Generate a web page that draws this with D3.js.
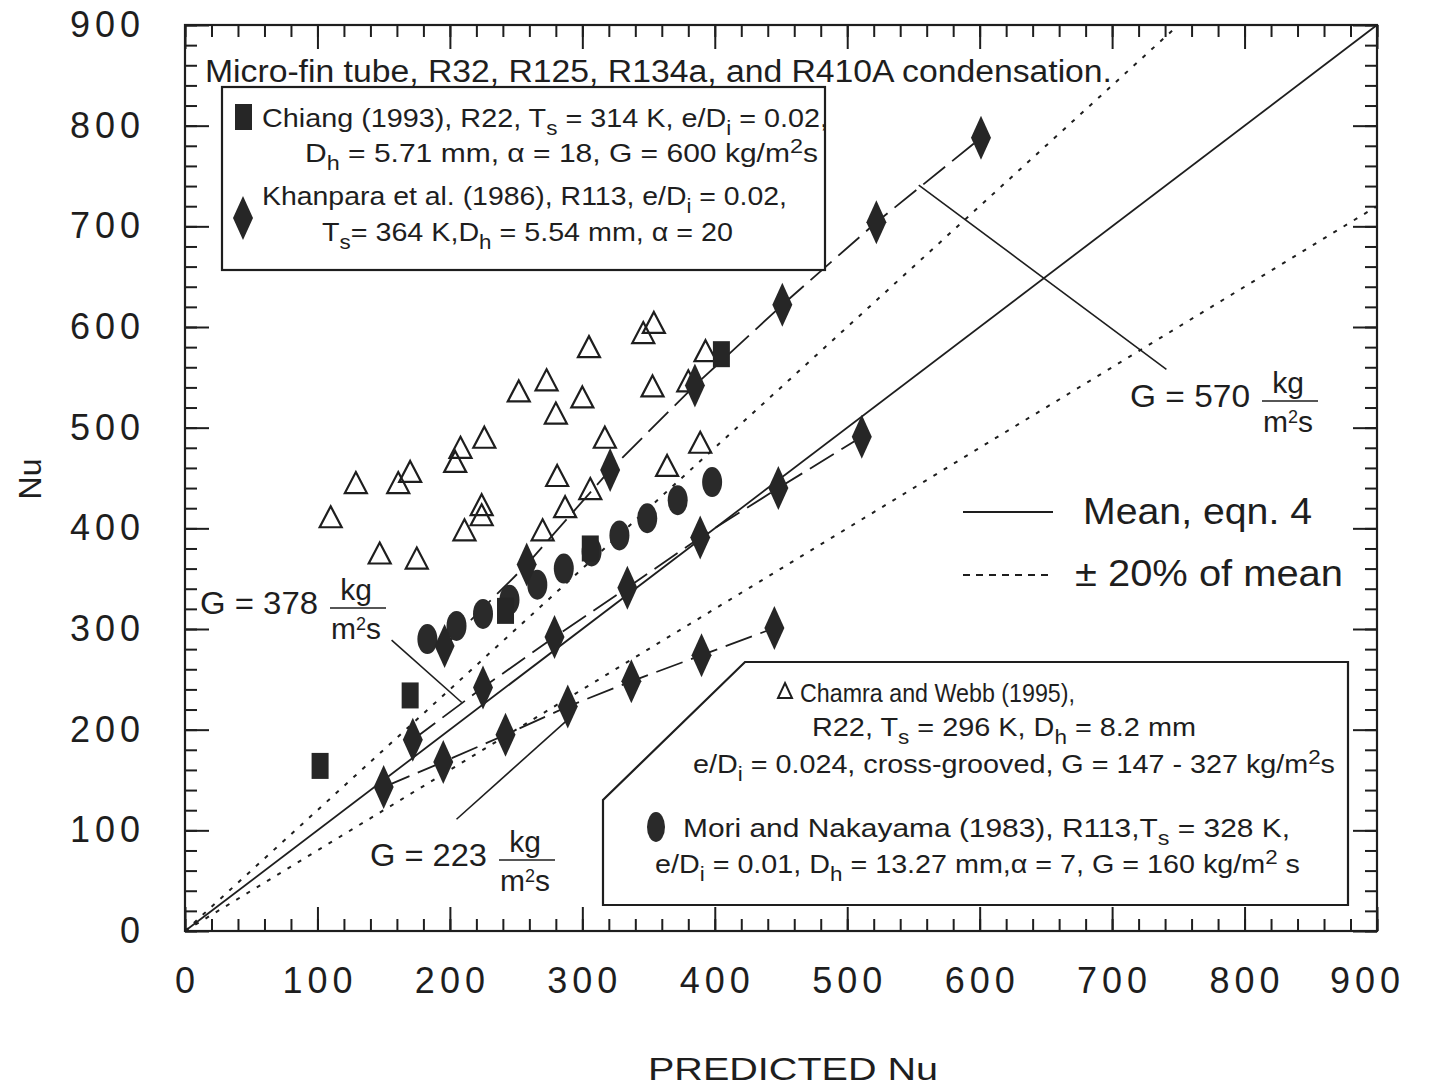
<!DOCTYPE html>
<html>
<head>
<meta charset="utf-8">
<script src="https://cdn.jsdelivr.net/npm/d3@7"></script>
<style>
  body { margin: 0; background: #fff; }
  svg text { font-family: "Liberation Sans", Arial, Helvetica, sans-serif; fill: #1e1e1e; }
</style>
</head>
<body>
<svg id="chart" width="1434" height="1088"></svg>
<script>
// ---- data -------------------------------------------------------------
// Chiang (1993), R22 — squares
const chiangX = [102, 170, 242, 306, 405];
const chiangY = [164, 234, 318, 380, 573];

// Khanpara et al. (1986), R113 — diamonds, one run per mass flux
const khan570X = [196, 258, 321, 385, 451, 522, 601];
const khan570Y = [283, 364, 458, 542, 622, 704, 788];
const khan378X = [172, 225, 279, 334, 389, 448, 511];
const khan378Y = [190, 242, 292, 341, 391, 440, 491];
const khan223X = [150, 195, 242, 289, 337, 390, 445];
const khan223Y = [143, 168, 195, 223, 248, 274, 301];

// Mori and Nakayama (1983), R113 — filled ellipses
const moriX = [183, 205, 225, 245, 266, 286, 307, 328, 349, 372, 398];
const moriY = [290, 303, 315, 329, 344, 360, 377, 393, 410, 428, 446];

// Chamra and Webb (1995), R22 — open triangles
const chamraX = [110, 129, 147, 161, 170, 175, 204, 208, 211, 224, 224, 226, 252, 270, 273,
                 280, 281, 287, 300, 305, 306, 317, 346, 354, 353, 364, 380, 389, 393];
const chamraY = [411, 445, 375, 445, 456, 370, 466, 480, 398, 423, 413, 490, 536, 398, 547,
                 514, 452, 421, 530, 580, 439, 490, 594, 604, 541, 462, 546, 485, 576];

// mean correlation and ±20% band (ratio to predicted value)
const meanRatio = 1.0;
const bandRatios = [1.2, 0.8];

const xTicks = [0, 100, 200, 300, 400, 500, 600, 700, 800, 900];
const yTicks = [0, 100, 200, 300, 400, 500, 600, 700, 800, 900];
const minorStep = 20;

// ---- layout -----------------------------------------------------------
const svg = d3.select("#chart");
const ink = "#1e1e1e";
const x = d3.scaleLinear().domain([0, 900]).range([185, 1377]);
const y = d3.scaleLinear().domain([0, 900]).range([931, 25]);
const minorTicks = d3.range(0, 901, minorStep);

// ---- axes (ticks on all four sides, pointing inward) -------------------
function addAxis(axis, tx, ty, cls) {
  const g = svg.append("g").attr("class", cls).attr("transform", `translate(${tx},${ty})`).call(axis);
  g.select(".domain").remove();
  g.selectAll(".tick line").attr("stroke", ink).attr("stroke-width", 2);
  return g;
}
addAxis(d3.axisBottom(x).tickValues(minorTicks).tickSize(-12).tickFormat(""), 0, 931, "xminor");
addAxis(d3.axisTop(x).tickValues(minorTicks).tickSize(-12).tickFormat(""), 0, 25, "xminor-top");
addAxis(d3.axisLeft(y).tickValues(minorTicks).tickSize(-12).tickFormat(""), 185, 0, "yminor");
addAxis(d3.axisRight(y).tickValues(minorTicks).tickSize(-12).tickFormat(""), 1377, 0, "yminor-r");
addAxis(d3.axisTop(x).tickValues(xTicks).tickSize(-24).tickFormat(""), 0, 25, "xmajor-top");
addAxis(d3.axisRight(y).tickValues(yTicks).tickSize(-24).tickFormat(""), 1377, 0, "ymajor-r");

const xAx = addAxis(d3.axisBottom(x).tickValues(xTicks).tickSize(-24).tickPadding(36), 0, 931, "xmajor");
xAx.selectAll("text")
  .attr("font-size", 36).attr("letter-spacing", "5px").attr("fill", ink)
  .attr("dx", (d, i) => i === xTicks.length - 1 ? -10 : 2);
const yAx = addAxis(d3.axisLeft(y).tickValues(yTicks).tickSize(-24).tickPadding(40), 185, 0, "ymajor");
yAx.selectAll("text")
  .attr("font-size", 36).attr("letter-spacing", "5px").attr("fill", ink);
svg.selectAll(".tick text").style("font-family", '"Liberation Sans", Arial, sans-serif');

svg.append("rect")
  .attr("x", x(0)).attr("y", y(900))
  .attr("width", x(900) - x(0)).attr("height", y(0) - y(900))
  .attr("fill", "none").attr("stroke", ink).attr("stroke-width", 2.2);

svg.append("text").attr("x", 793).attr("y", 1080).attr("text-anchor", "middle")
  .attr("font-size", 32).attr("textLength", 290).attr("lengthAdjust", "spacingAndGlyphs")
  .text("PREDICTED Nu");
svg.append("text").attr("transform", "translate(41,479) rotate(-90)").attr("text-anchor", "middle")
  .attr("font-size", 32).text("Nu");

// ---- reference lines --------------------------------------------------
const plot = svg.append("g");
const refLine = (ratio) => {
  const xEnd = Math.min(900, 900 / ratio);
  return [[0, 0], [xEnd, xEnd * ratio]];
};
const line = d3.line().x(d => x(d[0])).y(d => y(d[1]));
plot.append("path").attr("d", line(refLine(meanRatio)))
  .attr("fill", "none").attr("stroke", ink).attr("stroke-width", 1.8);
bandRatios.forEach(r => {
  plot.append("path").attr("d", line(refLine(r)))
    .attr("fill", "none").attr("stroke", ink).attr("stroke-width", 2)
    .attr("stroke-dasharray", "4,8");
});

// Khanpara runs joined with long-dash lines
[[khan570X, khan570Y], [khan378X, khan378Y], [khan223X, khan223Y]].forEach(([xs, ys]) => {
  plot.append("path").attr("d", line(xs.map((v, i) => [v, ys[i]])))
    .attr("fill", "none").attr("stroke", ink).attr("stroke-width", 1.8)
    .attr("stroke-dasharray", "28,9");
});

// leader lines from the mass-flux labels to their runs
const leaders = [
  [[554, 741], [741, 558]],
  [[156, 289], [209, 227]],
  [[205, 111], [289, 210]]
];
leaders.forEach(l => plot.append("path").attr("d", line(l))
  .attr("fill", "none").attr("stroke", ink).attr("stroke-width", 1.6));

// ---- markers ------------------------------------------------------------
const diamond = "M0,-22L10,0L0,22L-10,0Z";
const triangle = "M0,-11L11,10L-11,10Z";

plot.selectAll(".tri").data(chamraX.map((v, i) => [v, chamraY[i]])).join("path")
  .attr("class", "tri").attr("d", triangle)
  .attr("transform", d => `translate(${x(d[0])},${y(d[1])})`)
  .attr("fill", "none").attr("stroke", ink).attr("stroke-width", 2.2).attr("stroke-linejoin", "miter");

plot.selectAll(".mori").data(moriX.map((v, i) => [v, moriY[i]])).join("ellipse")
  .attr("class", "mori").attr("cx", d => x(d[0])).attr("cy", d => y(d[1]))
  .attr("rx", 10).attr("ry", 15).attr("fill", "#2a2a2a");

const khanAll = [[khan570X, khan570Y], [khan378X, khan378Y], [khan223X, khan223Y]]
  .flatMap(([xs, ys]) => xs.map((v, i) => [v, ys[i]]));
plot.selectAll(".khan").data(khanAll).join("path")
  .attr("class", "khan").attr("d", diamond)
  .attr("transform", d => `translate(${x(d[0])},${y(d[1])})`)
  .attr("fill", "#262626");

plot.selectAll(".chiang").data(chiangX.map((v, i) => [v, chiangY[i]])).join("rect")
  .attr("class", "chiang").attr("x", d => x(d[0]) - 8.5).attr("y", d => y(d[1]) - 13)
  .attr("width", 17).attr("height", 26).attr("fill", "#262626");

// ---- text helpers ---------------------------------------------------
// segments: plain strings, {sub: "s"} or {sup: "2"}
function richText(xp, yp, size, length, segs, opts) {
  const o = Object.assign({anchor: "start", subDrop: 0.32, supRise: 0.36, small: 0.78}, opts || {});
  const t = svg.append("text").attr("x", xp).attr("y", yp).attr("font-size", size)
    .attr("text-anchor", o.anchor);
  if (length) t.attr("textLength", length).attr("lengthAdjust", "spacingAndGlyphs");
  let shift = 0;
  segs.forEach(s => {
    const sp = t.append("tspan");
    if (typeof s === "string") {
      sp.attr("dy", -shift).text(s); shift = 0;
    } else if (s.sub !== undefined) {
      const d = size * o.subDrop;
      sp.attr("dy", d - shift).attr("font-size", size * o.small).text(s.sub); shift = d;
    } else {
      const d = -size * o.supRise;
      sp.attr("dy", d - shift).attr("font-size", size * o.small).text(s.sup); shift = d;
    }
  });
  return t;
}

// heading inside the plot
svg.append("text").attr("x", 205).attr("y", 82).attr("font-size", 31)
  .attr("textLength", 907).attr("lengthAdjust", "spacingAndGlyphs")
  .text("Micro-fin tube, R32, R125, R134a, and R410A condensation.");

// upper-left legend box
svg.append("rect").attr("x", 222).attr("y", 87).attr("width", 603).attr("height", 183)
  .attr("fill", "#fff").attr("stroke", ink).attr("stroke-width", 2.2);
svg.append("rect").attr("x", 235).attr("y", 104).attr("width", 17).attr("height", 26).attr("fill", "#262626");
svg.append("path").attr("d", diamond).attr("transform", "translate(243,218)").attr("fill", "#262626");
richText(262, 127, 26, 566, ["Chiang (1993), R22, T", {sub: "s"}, " = 314 K, e/D", {sub: "i"}, " = 0.02,"]);
richText(305, 162, 26, 513, ["D", {sub: "h"}, " = 5.71 mm, \u03b1 = 18, G = 600 kg/m", {sup: "2"}, "s"]);
richText(262, 205, 26, 525, ["Khanpara et al. (1986), R113, e/D", {sub: "i"}, " = 0.02,"]);
richText(322, 241, 26, 411, ["T", {sub: "s"}, "= 364 K,D", {sub: "h"}, " = 5.54 mm, \u03b1 = 20"]);

// lower-right legend box with clipped corner
const boxPts = [[745, 662], [1348, 662], [1348, 905], [603, 905], [603, 800]];
svg.append("path").attr("d", "M" + boxPts.join("L") + "Z")
  .attr("fill", "#fff").attr("stroke", ink).attr("stroke-width", 2.2);
svg.append("path").attr("d", "M0,-8L7,7L-7,7Z").attr("transform", "translate(785,691)")
  .attr("fill", "none").attr("stroke", ink).attr("stroke-width", 2);
svg.append("ellipse").attr("cx", 656).attr("cy", 827).attr("rx", 9).attr("ry", 15).attr("fill", "#2a2a2a");
richText(800, 702, 26, 275, ["Chamra and Webb (1995),"]);
richText(812, 736, 26, 384, ["R22, T", {sub: "s"}, " = 296 K, D", {sub: "h"}, " = 8.2 mm"]);
richText(693, 773, 26, 642, ["e/D", {sub: "i"}, " = 0.024, cross-grooved, G = 147 - 327 kg/m", {sup: "2"}, "s"]);
richText(683, 837, 26, 607, ["Mori and Nakayama (1983), R113,T", {sub: "s"}, " = 328 K,"]);
richText(655, 873, 26, 645, ["e/D", {sub: "i"}, " = 0.01, D", {sub: "h"}, " = 13.27 mm,\u03b1 = 7, G = 160 kg/m", {sup: "2"}, " s"]);

// mass-flux labels, unit as a stacked fraction
function fluxLabel(xp, yp, value, lenMain) {
  svg.append("text").attr("x", xp).attr("y", yp).attr("font-size", 31)
    .attr("textLength", lenMain).attr("lengthAdjust", "spacingAndGlyphs")
    .text("G = " + value);
  const fx = xp + lenMain + 12;
  svg.append("text").attr("x", fx + 26).attr("y", yp - 14).attr("font-size", 30)
    .attr("text-anchor", "middle").text("kg");
  svg.append("line").attr("x1", fx).attr("x2", fx + 56).attr("y1", yp - 6).attr("y2", yp - 6)
    .attr("stroke", ink).attr("stroke-width", 1.6);
  richText(fx + 1, yp + 25, 30, null, ["m", {sup: "2"}, "s"], {supRise: 0.3, small: 0.6});
}
fluxLabel(200, 614, 378, 118);
fluxLabel(370, 866, 223, 117);
fluxLabel(1130, 407, 570, 120);

// line-style key
svg.append("line").attr("x1", 963).attr("x2", 1053).attr("y1", 512).attr("y2", 512)
  .attr("stroke", ink).attr("stroke-width", 2.2);
svg.append("line").attr("x1", 963).attr("x2", 1053).attr("y1", 575).attr("y2", 575)
  .attr("stroke", ink).attr("stroke-width", 2).attr("stroke-dasharray", "7,6");
svg.append("text").attr("x", 1083).attr("y", 524).attr("font-size", 36)
  .attr("textLength", 229).attr("lengthAdjust", "spacingAndGlyphs").text("Mean, eqn. 4");
svg.append("text").attr("x", 1075).attr("y", 586).attr("font-size", 36)
  .attr("textLength", 268).attr("lengthAdjust", "spacingAndGlyphs").text("\u00b1 20% of mean");
</script>
</body>
</html>
